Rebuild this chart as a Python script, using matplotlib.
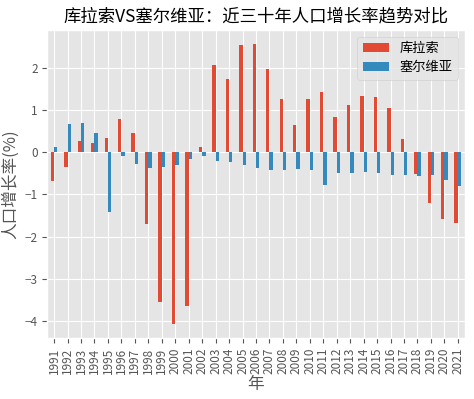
import pandas as pd
import matplotlib
matplotlib.use('Agg')
import matplotlib.pyplot as plt

plt.style.use('ggplot')
plt.rcParams['font.family'] = ['Noto Sans CJK SC', 'DejaVu Sans']
plt.rcParams['axes.unicode_minus'] = True

# 年份
years = list(range(1991, 2022))

# 人口增长率 (%)
curacao = [-0.69, -0.34, 0.27, 0.23, 0.35, 0.80, 0.45, -1.69, -3.55, -4.07,
           -3.65, 0.12, 2.07, 1.73, 2.55, 2.57, 1.97, 1.26, 0.65, 1.27,
           1.42, 0.83, 1.13, 1.34, 1.32, 1.06, 0.32, -0.52, -1.20, -1.59,
           -1.67]
serbia = [0.12, 0.66, 0.69, 0.45, -1.42, -0.09, -0.28, -0.37, -0.35, -0.31,
          -0.17, -0.09, -0.21, -0.23, -0.30, -0.38, -0.41, -0.42, -0.40, -0.41,
          -0.78, -0.48, -0.48, -0.47, -0.50, -0.53, -0.53, -0.55, -0.54, -0.66,
          -0.80]

df = pd.DataFrame({'库拉索': curacao, '塞尔维亚': serbia}, index=years)

fig, ax = plt.subplots(figsize=(4.74, 3.99), dpi=100)
df.plot.bar(ax=ax)

ax.set_title('库拉索VS塞尔维亚：近三十年人口增长率趋势对比', fontsize=12.5)
ax.set_xlabel('年', fontsize=12, labelpad=1)
ax.set_ylabel('人口增长率(%)', fontsize=12)
ax.tick_params(axis='both', labelsize=8.5)
ax.legend(loc='upper right', fontsize=9.5)

plt.subplots_adjust(left=0.10, right=0.98, top=0.925, bottom=0.153)
plt.savefig('out.png')
